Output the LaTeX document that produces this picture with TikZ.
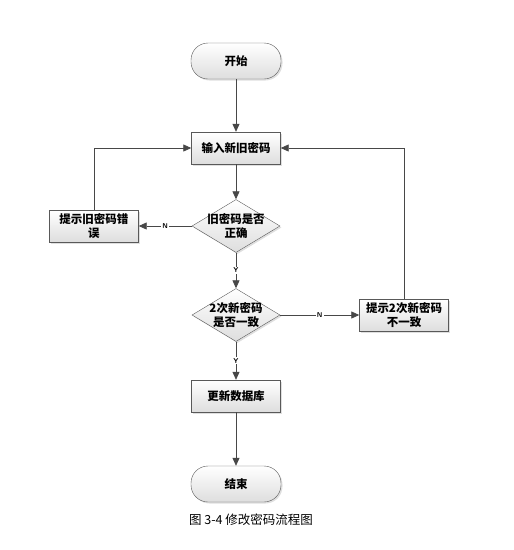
\documentclass[tikz,border=0pt]{standalone}
\usepackage{fontspec}
\newfontfamily\cjk{Noto Sans CJK SC}
\usetikzlibrary{shapes.geometric,arrows.meta,shadows}
\begin{document}
\begin{tikzpicture}[x=1pt, y=-1pt,
  shade box/.style={draw=black!65, top color=white, bottom color=black!13,
    drop shadow={shadow xshift=1.5pt, shadow yshift=-1.5pt, opacity=0.25}},
  box/.style={shade box, rectangle, minimum width=89pt, minimum height=32pt,
    inner sep=0pt, align=center, font=\cjk\bfseries\fontsize{11.5}{14}\selectfont},
  term/.style={box, rounded corners=17pt, minimum width=90pt, minimum height=36pt},
  dec/.style={shade box, diamond, aspect=1.7, minimum width=88pt, minimum height=53pt,
    inner sep=-5pt, align=center, font=\cjk\bfseries\fontsize{11.5}{14}\selectfont},
  arr/.style={draw=black!72, line width=0.8pt, -{Triangle[length=8pt, width=7pt]}},
  lab/.style={fill=white, inner sep=1pt, font=\sffamily\bfseries\fontsize{7}{8}\selectfont}]
\useasboundingbox (0,0) rectangle (514,550);
% main column
\node[term] (start) at (236,61) {开始};
\node[box] (input) at (236,148) {输入新旧密码};
\node[dec] (chkold) at (236,226) {旧密码是否\\正确};
\node[dec] (chknew) at (236,315) {2次新密码\\是否一致};
\node[box] (update) at (236,396) {更新数据库};
\node[term] (stop) at (236,484) {结束};
% error boxes
\node[box] (errold) at (94,226) {提示旧密码错\\误};
\node[box] (errnew) at (404,315) {提示2次新密码\\不一致};
\draw[arr] (start) -- (input);
\draw[arr] (input) -- (chkold);
\draw[arr] (chkold) -- node[lab]{N} (errold);
\draw[arr] (errold.north) |- (input.west);
\draw[arr] (chkold) -- node[lab]{Y} (chknew);
\draw[arr] (chknew) -- node[lab]{N} (errnew);
\draw[arr] (errnew.north) |- (input.east);
\draw[arr] (chknew) -- node[lab]{Y} (update);
\draw[arr] (update) -- (stop);
% caption
\node[font=\cjk\fontsize{12.5}{14}\selectfont] (caption) at (251,520) {图 3-4 修改密码流程图};
\end{tikzpicture}
\end{document}
